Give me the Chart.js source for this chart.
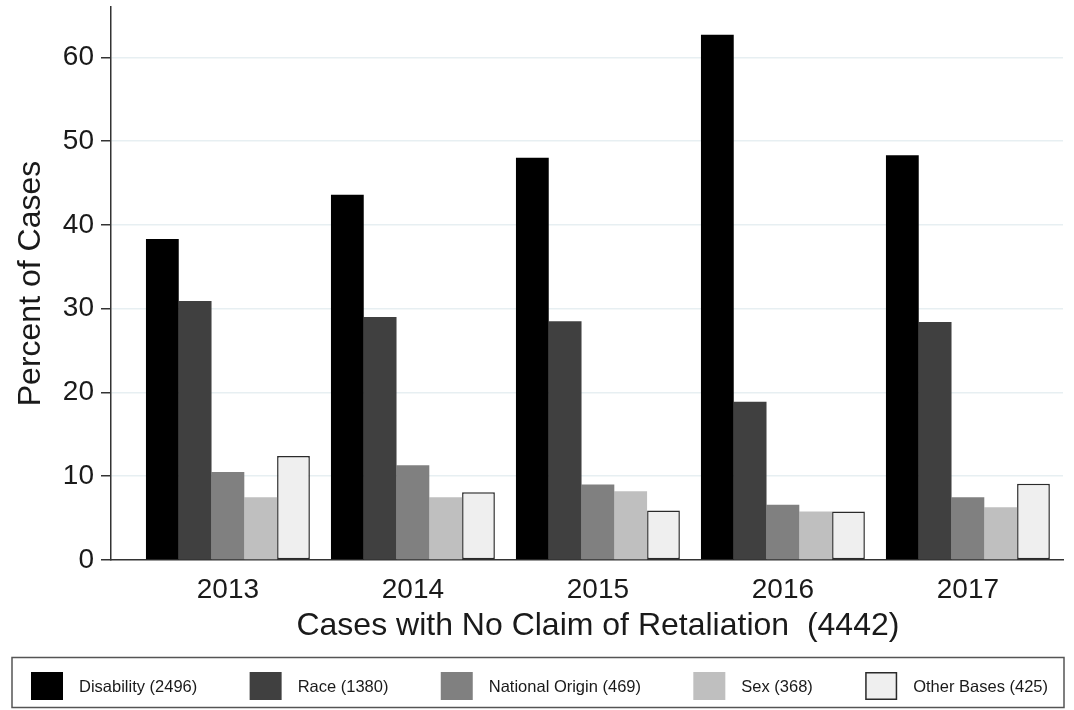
<!DOCTYPE html>
<html>
<head>
<meta charset="utf-8">
<script src="https://cdn.jsdelivr.net/npm/chart.js@4.4.1/dist/chart.umd.min.js"></script>
<style>
  html, body { margin: 0; padding: 0; background: #fff; }
  #wrap { width: 1074px; height: 710px; }
</style>
</head>
<body>
<div id="wrap"><canvas id="c" width="1074" height="710"></canvas></div>
<script>
// Percent of cases by basis and year
const years = [2013, 2014, 2015, 2016, 2017];
const seriesNames = ['Disability (2496)', 'Race (1380)', 'National Origin (469)', 'Sex (368)', 'Other Bases (425)'];
const disability     = [38.3, 43.6, 48.0, 62.7, 48.3];
const race           = [30.9, 29.0, 28.5, 18.9, 28.4];
const nationalOrigin = [10.5, 11.3, 9.0, 6.6, 7.5];
const sex            = [7.5, 7.5, 8.2, 5.8, 6.3];
const otherBases     = [12.4, 8.1, 5.9, 5.8, 9.1];
const yTicks = [0, 10, 20, 30, 40, 50, 60];
const xTitle = 'Cases with No Claim of Retaliation  (4442)';
const yTitle = 'Percent of Cases';

const FONT = '"Liberation Sans", Arial, sans-serif';
const INK = '#1a1a1a';
const AXIS = '#333333';

const seriesValues = [disability, race, nationalOrigin, sex, otherBases];
const fills = ['#000000', '#404040', '#808080', '#bfbfbf', '#efefef'];
const edges = [0, 0, 0, 0, 1.5];

const datasets = seriesValues.map((vals, s) => ({
  label: seriesNames[s],
  data: vals.map((v, i) => ({ x: years[i], y: v })),
  backgroundColor: fills[s],
  borderColor: '#2a2a2a',
  borderWidth: edges[s],
  borderSkipped: false
}));

// Axis titles and the boxed legend underneath the plot
const decorations = {
  id: 'decorations',
  afterDraw(chart) {
    const { ctx, scales: { x, y } } = chart;
    ctx.save();
    ctx.fillStyle = INK;
    ctx.font = '32px ' + FONT;
    ctx.textAlign = 'center';
    ctx.textBaseline = 'middle';
    ctx.fillText(xTitle, x.getPixelForValue(2015), 626);
    ctx.save();
    ctx.translate(31, (y.top + y.bottom) / 2);
    ctx.rotate(-Math.PI / 2);
    ctx.fillText(yTitle, 0, 0);
    ctx.restore();

    // legend
    const ds = chart.data.datasets;
    const boxW = 32, boxH = 28, boxY = 672, textGap = 16;
    const startX = 31, endX = 1048;
    ctx.font = '16.5px ' + FONT;
    const widths = ds.map(d => boxW + textGap + ctx.measureText(d.label).width);
    const total = widths.reduce((a, b) => a + b, 0);
    const gap = (endX - startX - total) / (ds.length - 1);
    let cx = startX;
    ctx.textAlign = 'left';
    ds.forEach((d, i) => {
      ctx.fillStyle = d.backgroundColor;
      ctx.fillRect(cx, boxY, boxW, boxH);
      if (d.borderWidth) {
        ctx.strokeStyle = d.borderColor;
        ctx.lineWidth = d.borderWidth;
        ctx.strokeRect(cx + 0.75, boxY + 0.75, boxW - 1.5, boxH - 1.5);
      }
      ctx.fillStyle = INK;
      ctx.fillText(d.label, cx + boxW + textGap, boxY + boxH / 2 + 1);
      cx += widths[i] + gap;
    });
    ctx.strokeStyle = '#555';
    ctx.lineWidth = 1.5;
    ctx.strokeRect(12, 657.5, 1052, 50);
    ctx.restore();
  }
};

new Chart(document.getElementById('c'), {
  type: 'bar',
  data: { datasets },
  options: {
    responsive: false,
    animation: false,
    layout: { padding: { top: 7, right: 11, left: 0, bottom: 0 } },
    datasets: { bar: { categoryPercentage: 0.886, barPercentage: 1 } },
    plugins: { legend: { display: false }, tooltip: { enabled: false } },
    scales: {
      x: {
        type: 'linear',
        offset: false,
        min: 2012.368,
        max: 2017.514,
        afterBuildTicks: s => { s.ticks = years.map(v => ({ value: v })); },
        afterFit: s => { s.height = 150; s.paddingLeft = 0; s.paddingRight = 0; },
        grid: { display: false, drawTicks: false },
        border: { display: true, color: AXIS, width: 1.5 },
        ticks: {
          padding: 13,
          color: INK,
          font: { family: FONT, size: 28 },
          autoSkip: false,
          maxRotation: 0,
          callback: v => String(v)
        }
      },
      y: {
        min: 0,
        max: 66,
        afterBuildTicks: s => { s.ticks = yTicks.map(v => ({ value: v })); },
        afterFit: s => { s.width = 111; s.paddingTop = 0; s.paddingBottom = 0; },
        grid: {
          color: c => (c.tick && c.tick.value === 0) ? 'rgba(0,0,0,0)' : '#e7eff2',
          lineWidth: 1.5,
          tickColor: AXIS,
          tickWidth: 1.5,
          tickLength: 10
        },
        border: { display: true, color: AXIS, width: 1.5 },
        ticks: {
          padding: 7,
          color: INK,
          font: { family: FONT, size: 28 }
        }
      }
    }
  },
  plugins: [decorations]
});
</script>
</body>
</html>
